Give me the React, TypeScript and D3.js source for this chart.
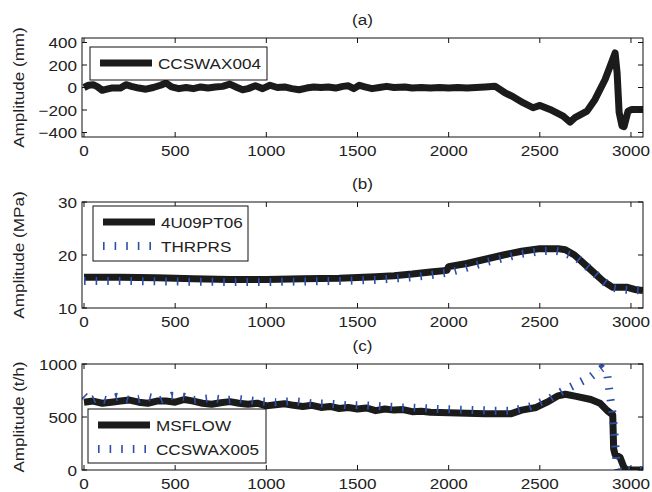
import React from 'react';
import * as d3 from 'd3';

// panel (a)
const ccswax004: [number, number][] = [
  [0, 0], [25, 20], [50, 25], [75, 5], [100, -25], [125, -15], [150, -5], [200, -5], [230, 25], [260, 10],
  [300, -5], [340, -15], [380, 0], [420, 20], [450, 40], [480, 5], [520, -10], [560, 0], [600, -10], [640, 5],
  [680, -5], [720, 5], [760, 10], [800, 30], [840, 0], [870, -20], [900, -10], [940, 15], [980, -10], [1020, 20],
  [1060, 0], [1100, 5], [1140, -10], [1180, -20], [1220, -5], [1260, 5], [1300, 0], [1340, 5], [1380, -5], [1420, 10],
  [1450, 15], [1480, -10], [1510, 20], [1540, 5], [1580, -10], [1620, 0], [1660, 10], [1700, 0], [1760, 5], [1800, -5],
  [1850, 0], [1900, -5], [1950, 0], [2000, -5], [2050, 0], [2100, -5], [2150, 0], [2200, 5], [2254, 12], [2309, -47],
  [2353, -82], [2408, -135], [2463, -180], [2501, -159], [2556, -195], [2628, -254], [2666, -307], [2693, -268],
  [2759, -210], [2803, -106], [2858, 71], [2896, 233], [2913, 307], [2924, 130], [2935, -221], [2951, -342],
  [2962, -348], [2984, -210], [3005, -195], [3066, -195],
];

// panel (b)
const u09pt06: [number, number][] = [
  [0, 15.8], [200, 15.8], [400, 15.7], [600, 15.5], [800, 15.4], [1000, 15.4], [1200, 15.5], [1400, 15.6],
  [1600, 15.9], [1700, 16.1], [1800, 16.4], [1900, 16.8], [1990, 17.1], [2000, 17.8], [2100, 18.4], [2200, 19.2],
  [2300, 20.0], [2400, 20.7], [2500, 21.2], [2600, 21.2], [2640, 21.0], [2690, 20.0], [2780, 17.2], [2850, 15.0],
  [2900, 13.9], [2980, 13.9], [3020, 13.5], [3066, 13.3],
];
const thrprs: [number, number][] = [
  [0, 15.1], [200, 15.1], [500, 15.0], [800, 14.9], [1000, 14.9], [1200, 15.0], [1400, 15.1], [1600, 15.3],
  [1800, 15.8], [1900, 16.2], [2000, 16.7], [2100, 17.6], [2200, 18.6], [2300, 19.4], [2400, 20.2], [2500, 20.7],
  [2580, 20.8], [2620, 20.6], [2700, 19.5], [2780, 17.2], [2850, 15.0], [2900, 13.8], [2950, 13.5], [3000, 13.4],
  [3066, 13.3],
];

// panel (c)
const msflow: [number, number][] = [
  [0, 640], [50, 650], [100, 630], [150, 640], [200, 650], [250, 660], [300, 640], [350, 630], [400, 650],
  [450, 650], [500, 640], [550, 665], [600, 650], [650, 630], [700, 620], [750, 635], [800, 645], [850, 630],
  [900, 620], [950, 630], [1000, 605], [1050, 615], [1100, 625], [1150, 610], [1200, 600], [1250, 610], [1300, 590],
  [1350, 600], [1400, 580], [1450, 590], [1500, 575], [1550, 585], [1600, 560], [1650, 575], [1700, 565], [1750, 570],
  [1800, 550], [1850, 555], [1900, 545], [2000, 540], [2100, 535], [2200, 530], [2340, 530], [2400, 565], [2480, 590],
  [2540, 640], [2600, 700], [2640, 715], [2700, 695], [2780, 665], [2830, 630], [2870, 560], [2900, 520], [2905, 200],
  [2913, 145], [2940, 120], [2960, 30], [2975, 0], [3066, 0],
];
const ccswax005: [number, number][] = [
  [0, 700], [30, 650], [70, 680], [120, 660], [180, 690], [250, 660], [300, 670], [350, 690], [420, 660], [480, 700],
  [550, 690], [600, 660], [700, 680], [780, 660], [850, 670], [950, 650], [1050, 640], [1150, 650], [1250, 630],
  [1350, 625], [1450, 610], [1550, 610], [1650, 600], [1750, 590], [1850, 585], [1950, 575], [2050, 570], [2150, 565],
  [2250, 560], [2350, 560], [2450, 600], [2550, 670], [2620, 740], [2700, 810], [2780, 880], [2840, 960], [2870, 900],
  [2885, 700], [2900, 520], [2912, 300], [2920, 80], [2930, 0], [3066, 0],
];

const xTicks = [0, 500, 1000, 1500, 2000, 2500, 3000];

const BLACK = '#1b1b1b';
const BLUE = '#2f4fa8';
const FONT = '"Liberation Sans", Arial, sans-serif';
const SX = 1.14;

const x = d3.scaleLinear().domain([-11, 3066]).range([82, 643]);

function T({ x, y, anchor = 'start', rot = 0, children }: any) {
  return (
    <text
      transform={`translate(${x},${y})${rot ? ` rotate(${rot})` : ''} scale(${SX},1)`}
      textAnchor={anchor}
      fontFamily={FONT}
      fontSize={15}
      fill="#222"
    >
      {children}
    </text>
  );
}

function Panel({ id, top, bottom, yDomain, yTicks, yLabel, series, legend }: any) {
  const y = d3.scaleLinear().domain(yDomain).range([bottom, top]);
  const line = d3.line<[number, number]>().x(d => x(d[0])).y(d => y(d[1]));
  const [x0, x1] = x.range();
  const tl = 5;
  return (
    <g>
      <defs>
        <clipPath id={`clip-${id}`}>
          <rect x={x0} y={top} width={x1 - x0} height={bottom - top} />
        </clipPath>
      </defs>
      <T x={(x0 + x1) / 2} y={top - 13} anchor="middle">({id})</T>
      <T x={19 + 5} y={(top + bottom) / 2} anchor="middle" rot={-90}>{yLabel}</T>
      <g clipPath={`url(#clip-${id})`}>
        {series.map((s: any, i: number) => (
          <path
            key={i}
            d={line(s.data) || ''}
            fill="none"
            stroke={s.dashed ? BLUE : BLACK}
            strokeWidth={s.dashed ? 8 : 7}
            strokeLinejoin="round"
            strokeDasharray={s.dashed ? '1.6 10' : undefined}
          />
        ))}
      </g>
      <rect x={x0} y={top} width={x1 - x0} height={bottom - top} fill="none" stroke="#111" strokeWidth={1} />
      {xTicks.map(t => (
        <g key={t}>
          <line x1={x(t)} x2={x(t)} y1={bottom} y2={bottom - tl} stroke="#111" />
          <line x1={x(t)} x2={x(t)} y1={top} y2={top + tl} stroke="#111" />
          <T x={x(t)} y={bottom + 19} anchor="middle">{t}</T>
        </g>
      ))}
      {yTicks.map((t: number) => (
        <g key={t}>
          <line x1={x0} x2={x0 + tl} y1={y(t)} y2={y(t)} stroke="#111" />
          <line x1={x1} x2={x1 - tl} y1={y(t)} y2={y(t)} stroke="#111" />
          <T x={77} y={y(t) + 5.5} anchor="end">{t < 0 ? `\u2212${-t}` : t}</T>
        </g>
      ))}
      <rect x={legend.x} y={legend.y} width={legend.w} height={legend.h} fill="#fff" stroke="#111" strokeWidth={1} />
      {series.map((s: any, i: number) => {
        const ly = legend.y + 16 + i * 24;
        return (
          <g key={i}>
            <line
              x1={legend.x + 10}
              x2={legend.x + 62}
              y1={ly}
              y2={ly}
              stroke={s.dashed ? BLUE : BLACK}
              strokeWidth={s.dashed ? 8 : 7}
              strokeDasharray={s.dashed ? '1.6 10' : undefined}
            />
            <T x={legend.x + 68} y={ly + 5.5}>{s.name}</T>
          </g>
        );
      })}
    </g>
  );
}

export default function App() {
  return (
    <svg width={652} height={492} style={{ position: 'absolute', left: 0, top: 0, background: '#fff' }}>
      <Panel
        id="a"
        top={38}
        bottom={137}
        yDomain={[-440, 440]}
        yTicks={[-400, -200, 0, 200, 400]}
        yLabel="Amplitude (mm)"
        series={[{ name: 'CCSWAX004', data: ccswax004 }]}
        legend={{ x: 90, y: 47, w: 177, h: 33 }}
      />
      <Panel
        id="b"
        top={202}
        bottom={308}
        yDomain={[10, 30]}
        yTicks={[10, 20, 30]}
        yLabel="Amplitude (MPa)"
        series={[
          { name: '4U09PT06', data: u09pt06 },
          { name: 'THRPRS', data: thrprs, dashed: true },
        ]}
        legend={{ x: 93, y: 206, w: 155, h: 55 }}
      />
      <Panel
        id="c"
        top={364}
        bottom={470}
        yDomain={[0, 1000]}
        yTicks={[0, 500, 1000]}
        yLabel="Amplitude (t/h)"
        series={[
          { name: 'MSFLOW', data: msflow },
          { name: 'CCSWAX005', data: ccswax005, dashed: true },
        ]}
        legend={{ x: 88, y: 409, w: 178, h: 54 }}
      />
    </svg>
  );
}
